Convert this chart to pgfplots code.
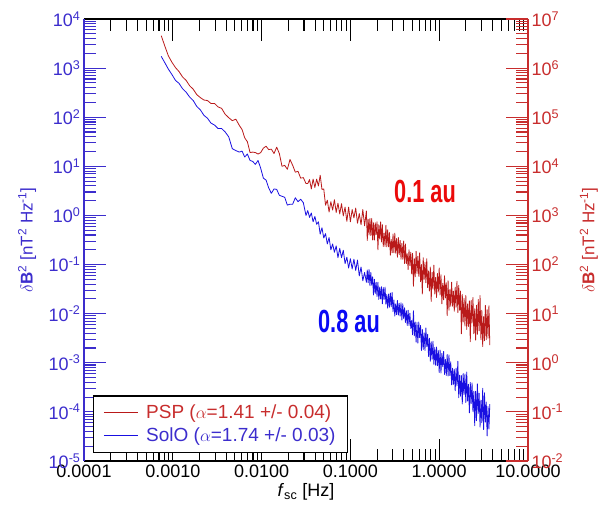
\documentclass[border=0pt]{standalone}
\usepackage{pgfplots}
\pgfplotsset{compat=1.18}
\usepackage{pgfplotstable}
\usepackage{fontspec}
\setmainfont{Liberation Sans}
\newfontfamily\condfont[FakeStretch=0.68]{Liberation Sans}
\definecolor{lblue}{RGB}{60,45,205}
\definecolor{dblue}{RGB}{25,15,225}
\definecolor{rred}{RGB}{200,45,45}
\definecolor{dred}{RGB}{185,25,25}
\definecolor{ared}{RGB}{235,10,10}
\definecolor{ablue}{RGB}{10,10,245}

\pgfplotstableread{
f solo psp
7.413e-4 1.738e3 4.571e6
8.128e-4 1.288e3 2.818e6
8.913e-4 9.550e2 1.778e6
9.772e-4 7.413e2 1.318e6
1.072e-3 5.623e2 1.023e6
1.175e-3 4.898e2 8.511e5
1.288e-3 3.802e2 6.607e5
1.413e-3 3.236e2 5.623e5
1.549e-3 2.570e2 4.365e5
1.698e-3 2.188e2 3.715e5
1.862e-3 1.660e2 2.884e5
2.042e-3 1.413e2 2.512e5
2.239e-3 1.096e2 2.239e5
2.455e-3 9.550e1 2.188e5
2.692e-3 7.586e1 1.905e5
2.951e-3 6.918e1 1.905e5
3.236e-3 5.888e1 1.622e5
3.548e-3 5.888e1 1.514e5
3.890e-3 5.012e1 1.148e5
4.266e-3 3.981e1 9.772e4
4.677e-3 2.291e1 8.511e4
5.129e-3 2.089e1 9.120e4
5.623e-3 1.950e1 6.761e4
6.026e-3 2.042e1 5.623e4
6.457e-3 1.549e1 3.802e4
6.918e-3 1.778e1 3.162e4
7.413e-3 1.318e1 1.905e4
7.943e-3 1.259e1 1.950e4
8.511e-3 1.096e1 1.905e4
9.120e-3 1.318e1 1.778e4
9.772e-3 9.120e0 1.905e4
1.047e-2 5.754e0 2.344e4
1.122e-2 5.248e0 2.570e4
1.202e-2 3.631e0 2.188e4
1.288e-2 2.818e0 2.239e4
1.380e-2 3.467e0 1.820e4
1.479e-2 3.388e0 2.455e4
1.585e-2 2.570e0 1.820e4
1.698e-2 2.455e0 1.000e4
1.820e-2 2.344e0 1.047e4
1.950e-2 1.622e0 8.710e3
2.089e-2 1.698e0 1.380e4
2.239e-2 1.698e0 1.047e4
2.399e-2 2.291e0 7.586e3
2.570e-2 1.905e0 7.943e3
2.754e-2 2.138e0 5.754e3
2.951e-2 1.820e0 5.888e3
3.162e-2 1.000e0 4.467e3
3.311e-2 1.259e0 4.467e3
3.467e-2 9.120e-1 5.370e3
3.631e-2 1.122e0 3.467e3
3.802e-2 7.413e-1 5.495e3
3.981e-2 9.550e-1 3.715e3
4.169e-2 6.607e-1 5.495e3
4.365e-2 7.413e-1 3.981e3
4.571e-2 4.169e-1 6.607e3
4.786e-2 5.623e-1 3.388e3
5.012e-2 3.467e-1 3.467e3
5.248e-2 4.266e-1 1.622e3
5.495e-2 2.630e-1 2.042e3
5.754e-2 3.548e-1 1.175e3
6.026e-2 1.995e-1 1.905e3
6.310e-2 2.630e-1 1.288e3
6.607e-2 1.778e-1 2.089e3
6.918e-2 2.399e-1 1.148e3
7.244e-2 1.380e-1 1.778e3
7.586e-2 2.138e-1 1.072e3
7.943e-2 1.380e-1 1.738e3
8.318e-2 1.950e-1 9.772e2
8.710e-2 1.047e-1 1.479e3
9.120e-2 1.413e-1 7.586e2
9.550e-2 8.511e-2 1.479e3
1.000e-1 1.318e-1 7.413e2
1.047e-1 8.128e-2 1.318e3
1.096e-1 1.288e-1 8.913e2
1.148e-1 7.586e-2 1.413e3
1.202e-1 1.230e-1 6.918e2
1.259e-1 5.888e-2 1.096e3
1.318e-1 8.913e-2 6.457e2
1.380e-1 4.677e-2 1.318e3
1.445e-1 6.918e-2 6.166e2
1.514e-1 4.365e-2 1.230e3
1.549e-1 7.762e-2 3.090e2
1.585e-1 4.266e-2 8.318e2
1.622e-1 7.943e-2 3.981e2
1.660e-1 3.715e-2 8.710e2
1.698e-1 6.918e-2 3.890e2
1.738e-1 3.802e-2 8.710e2
1.778e-1 5.623e-2 3.162e2
1.820e-1 2.399e-2 7.079e2
1.862e-1 5.012e-2 3.162e2
1.905e-1 2.570e-2 7.079e2
1.950e-1 4.365e-2 4.074e2
1.995e-1 2.239e-2 7.413e2
2.042e-1 4.365e-2 1.995e2
2.089e-1 1.950e-2 6.457e2
2.138e-1 3.467e-2 3.311e2
2.188e-1 1.995e-2 7.413e2
2.239e-1 3.548e-2 2.884e2
2.291e-1 1.585e-2 6.457e2
2.344e-1 3.388e-2 2.344e2
2.399e-1 1.950e-2 4.365e2
2.455e-1 3.467e-2 2.344e2
2.512e-1 1.549e-2 6.310e2
2.570e-1 2.455e-2 2.291e2
2.630e-1 1.288e-2 5.129e2
2.692e-1 2.512e-2 2.291e2
2.754e-1 1.349e-2 4.467e2
2.818e-1 2.630e-2 1.549e2
2.884e-1 1.380e-2 3.236e2
2.951e-1 2.692e-2 1.738e2
3.020e-1 1.096e-2 4.169e2
3.090e-1 1.905e-2 1.738e2
3.162e-1 8.913e-3 4.365e2
3.236e-1 1.585e-2 1.698e2
3.311e-1 9.550e-3 3.388e2
3.388e-1 1.862e-2 1.413e2
3.467e-1 9.333e-3 3.548e2
3.548e-1 1.622e-2 1.585e2
3.631e-1 8.913e-3 3.090e2
3.715e-1 1.660e-2 1.288e2
3.802e-1 7.413e-3 2.692e2
3.890e-1 1.585e-2 1.288e2
3.981e-1 7.943e-3 3.020e2
4.074e-1 1.318e-2 1.047e2
4.169e-1 6.607e-3 2.630e2
4.266e-1 1.148e-2 1.047e2
4.365e-1 5.754e-3 1.660e2
4.467e-1 1.175e-2 7.943e1
4.571e-1 5.754e-3 1.995e2
4.677e-1 1.023e-2 9.550e1
4.786e-1 5.012e-3 1.778e2
4.898e-1 7.244e-3 6.457e1
5.012e-1 3.715e-3 1.698e2
5.129e-1 1.148e-2 3.631e1
5.248e-1 3.548e-3 1.318e2
5.370e-1 6.761e-3 5.623e1
5.495e-1 2.630e-3 1.862e2
5.623e-1 6.607e-3 6.607e1
5.754e-1 2.512e-3 1.479e2
5.888e-1 6.761e-3 5.754e1
6.026e-1 3.236e-3 1.738e2
6.166e-1 5.754e-3 4.467e1
6.310e-1 1.778e-3 1.000e2
6.457e-1 4.786e-3 2.512e1
6.607e-1 1.862e-3 1.380e2
6.761e-1 4.074e-3 5.012e1
6.918e-1 1.778e-3 1.096e2
7.079e-1 5.129e-3 4.266e1
7.244e-1 2.138e-3 1.318e2
7.413e-1 3.802e-3 3.388e1
7.586e-1 1.349e-3 7.413e1
7.762e-1 3.162e-3 2.884e1
7.943e-1 1.072e-3 8.913e1
8.128e-1 2.692e-3 1.778e1
8.318e-1 1.175e-3 6.918e1
8.511e-1 2.754e-3 3.162e1
8.710e-1 9.333e-4 9.772e1
8.913e-1 2.042e-3 2.512e1
9.120e-1 8.913e-4 5.495e1
9.333e-1 2.089e-3 2.138e1
9.550e-1 8.710e-4 6.607e1
9.772e-1 1.778e-3 2.754e1
1.000e0 6.310e-4 8.511e1
1.023e0 1.820e-3 2.399e1
1.047e0 6.166e-4 6.166e1
1.072e0 1.549e-3 1.585e1
1.096e0 8.318e-4 4.169e1
1.122e0 1.698e-3 1.905e1
1.148e0 5.754e-4 5.888e1
1.175e0 1.175e-3 2.089e1
1.202e0 5.495e-4 4.266e1
1.230e0 1.479e-3 9.120e0
1.259e0 5.370e-4 4.677e1
1.288e0 1.445e-3 1.175e1
1.318e0 5.495e-4 3.090e1
1.349e0 1.047e-3 1.413e1
1.380e0 3.548e-4 4.365e1
1.413e0 7.762e-4 1.413e1
1.445e0 3.631e-4 2.884e1
1.479e0 7.413e-4 1.122e1
1.514e0 2.692e-4 3.467e1
1.549e0 7.762e-4 1.349e1
1.585e0 3.388e-4 4.571e1
1.622e0 1.072e-3 1.047e1
1.660e0 1.950e-4 3.802e1
1.698e0 5.623e-4 1.175e1
1.738e0 2.089e-4 2.884e1
1.778e0 5.495e-4 3.890e0
1.820e0 1.445e-4 2.455e1
1.862e0 6.026e-4 6.761e0
1.905e0 2.239e-4 2.042e1
1.950e0 5.888e-4 5.623e0
1.995e0 1.549e-4 2.344e1
2.042e0 6.457e-4 4.786e0
2.089e0 1.660e-4 1.585e1
2.138e0 3.631e-4 5.495e0
2.188e0 9.550e-5 1.820e1
2.239e0 3.981e-4 2.692e0
2.291e0 1.479e-4 1.862e1
2.344e0 3.890e-4 6.457e0
2.399e0 1.023e-4 2.138e1
2.455e0 2.630e-4 3.890e0
2.512e0 5.248e-5 1.259e1
2.570e0 2.630e-4 2.884e0
2.630e0 6.607e-5 1.479e1
2.692e0 3.715e-4 3.802e0
2.754e0 9.333e-5 1.950e1
2.818e0 2.399e-4 4.467e0
2.884e0 4.898e-5 2.344e1
2.951e0 1.738e-4 2.951e0
3.020e0 6.026e-5 1.175e1
3.090e0 3.020e-4 2.138e0
3.162e0 4.365e-5 8.710e0
3.236e0 2.455e-4 2.818e0
3.311e0 6.166e-5 1.479e1
3.388e0 1.585e-4 2.951e0
3.467e0 3.236e-5 1.202e1
3.548e0 1.288e-4 3.162e0
3.631e0 4.467e-5 1.445e1
3.715e0 1.445e-4 2.291e0
}\spectra

\begin{document}
\begin{tikzpicture}
\path[use as bounding box] (-84pt,-52pt) rectangle (519pt,461pt);
\begin{axis}[
  name=ax,
  at={(0pt,0pt)}, anchor=south west,
  scale only axis, width=444pt, height=442pt,
  xmode=log, ymode=log,
  xmin=1e-4, xmax=10, ymin=1e-5, ymax=1e4,
  axis y line*=left,
  xtick={1e-4,1e-3,1e-2,1e-1,1,10},
  xticklabels={0.0001,0.0010,0.0100,0.1000,1.0000,10.0000},
  minor xtick={2e-4,3e-4,4e-4,5e-4,6e-4,7e-4,8e-4,9e-4,
    2e-3,3e-3,4e-3,5e-3,6e-3,7e-3,8e-3,9e-3,
    2e-2,3e-2,4e-2,5e-2,6e-2,7e-2,8e-2,9e-2,
    0.2,0.3,0.4,0.5,0.6,0.7,0.8,0.9,2,3,4,5,6,7,8,9},
  ytick={1e-5,1e-4,1e-3,1e-2,1e-1,1,1e1,1e2,1e3,1e4},
  yticklabels={10\textsuperscript{-5},10\textsuperscript{-4},10\textsuperscript{-3},10\textsuperscript{-2},10\textsuperscript{-1},10\textsuperscript{0},10\textsuperscript{1},10\textsuperscript{2},10\textsuperscript{3},10\textsuperscript{4}},
  minor ytick={2e-5,3e-5,4e-5,5e-5,6e-5,7e-5,8e-5,9e-5,
    2e-4,3e-4,4e-4,5e-4,6e-4,7e-4,8e-4,9e-4,
    2e-3,3e-3,4e-3,5e-3,6e-3,7e-3,8e-3,9e-3,
    2e-2,3e-2,4e-2,5e-2,6e-2,7e-2,8e-2,9e-2,
    0.2,0.3,0.4,0.5,0.6,0.7,0.8,0.9,2,3,4,5,6,7,8,9,
    20,30,40,50,60,70,80,90,200,300,400,500,600,700,800,900,
    2000,3000,4000,5000,6000,7000,8000,9000},
  tick align=inside,
  major tick length=22pt, minor tick length=12pt,
  axis line style={line width=1.3pt},
  x axis line style={black},
  y axis line style={lblue},
  x tick style={black, line width=1.1pt},
  y tick style={lblue, line width=1.1pt},
  tick label style={font=\fontsize{18}{20}\selectfont},
  yticklabel style={text=lblue},
  xlabel={\textit{f}\textsubscript{sc} [Hz]},
  ylabel={$\delta$\textbf{B}\textsuperscript{2} [nT\textsuperscript{2} Hz\textsuperscript{-1}]},
  xlabel style={font=\fontsize{18}{20}\selectfont, at={(axis description cs:0.5,-0.07)}, anchor=center},
  ylabel style={font=\fontsize{17}{20}\selectfont, text=lblue, at={(axis description cs:-0.128,0.5)}, anchor=center},
  legend cell align=left,
  legend image code/.code={\draw[#1] (0pt,0pt) -- (34pt,0pt); \path (40pt,0pt);},
  legend style={at={(axis description cs:0.020,0.018)}, anchor=south west,
    draw=black, line width=1.2pt, fill=white, row sep=4pt,
    font=\fontsize{19}{22}\selectfont, inner xsep=10pt, inner ysep=7pt},
]
\addlegendimage{dred, line width=0.7pt}
\addlegendentry{\textcolor{rred}{PSP ($\alpha$=1.41 +/- 0.04)}}
\addlegendimage{dblue, line width=0.7pt}
\addlegendentry{\textcolor{lblue}{SolO ($\alpha$=1.74 +/- 0.03)}}
\addplot[dblue, line width=0.8pt, line join=round, forget plot] table[x=f, y=solo] {\spectra};
\node[text=ared, font=\condfont\bfseries\fontsize{32}{34}\selectfont] at (axis cs:0.692,3.14) {0.1 au};
\node[text=ablue, font=\condfont\bfseries\fontsize{32}{34}\selectfont] at (axis cs:0.0964,7.06e-3) {0.8 au};
\end{axis}
\begin{axis}[
  at={(0pt,0pt)}, anchor=south west,
  scale only axis, width=444pt, height=442pt,
  xmode=log, ymode=log,
  xmin=1e-4, xmax=10, ymin=1e-2, ymax=1e7,
  axis y line*=right, axis x line=none,
  ytick={1e-2,1e-1,1,1e1,1e2,1e3,1e4,1e5,1e6,1e7},
  yticklabels={10\textsuperscript{-2},10\textsuperscript{-1},10\textsuperscript{0},10\textsuperscript{1},10\textsuperscript{2},10\textsuperscript{3},10\textsuperscript{4},10\textsuperscript{5},10\textsuperscript{6},10\textsuperscript{7}},
  minor ytick={2e-2,3e-2,4e-2,5e-2,6e-2,7e-2,8e-2,9e-2,
    0.2,0.3,0.4,0.5,0.6,0.7,0.8,0.9,2,3,4,5,6,7,8,9,
    20,30,40,50,60,70,80,90,200,300,400,500,600,700,800,900,
    2000,3000,4000,5000,6000,7000,8000,9000,
    2e4,3e4,4e4,5e4,6e4,7e4,8e4,9e4,
    2e5,3e5,4e5,5e5,6e5,7e5,8e5,9e5,
    2e6,3e6,4e6,5e6,6e6,7e6,8e6,9e6},
  tick align=inside,
  major tick length=22pt, minor tick length=12pt,
  axis line style={line width=1.3pt},
  y axis line style={rred},
  y tick style={rred, line width=1.1pt},
  tick label style={font=\fontsize{18}{20}\selectfont},
  yticklabel style={text=rred},
  ylabel={$\delta$\textbf{B}\textsuperscript{2} [nT\textsuperscript{2} Hz\textsuperscript{-1}]},
  ylabel style={font=\fontsize{17}{20}\selectfont, text=rred, at={(axis description cs:1.137,0.5)}, anchor=center, rotate=0},
]
\addplot[dred, line width=0.8pt, line join=round] table[x=f, y=psp] {\spectra};
\end{axis}
\end{tikzpicture}
\end{document}
